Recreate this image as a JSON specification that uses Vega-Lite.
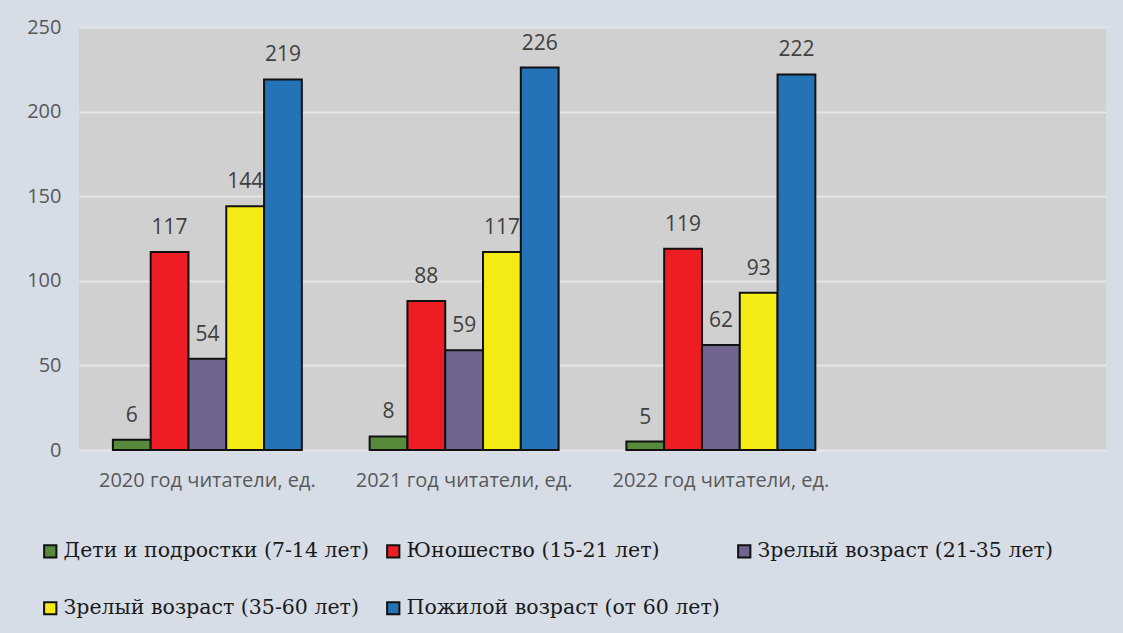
{
  "$schema": "https://vega.github.io/schema/vega-lite/v6.json",
  "autosize": {"type": "none"},
  "width": 1027,
  "height": 423,
  "padding": {"left": 79, "top": 27, "right": 17, "bottom": 183},
  "background": "#d6dde7",
  "config": {
    "view": {"fill": "#d0d0d0", "stroke": null},
    "axis": {"labelFont": "Open Sans", "labelColor": "#595959", "labelFontSize": 20, "domain": false, "ticks": false},
    "legend": {"labelFont": "DejaVu Serif"}
  },
  "data": {
    "values": [
      {"year": "2020 год читатели, ед.", "group": "Дети и подростки (7-14 лет)", "value": 6},
      {"year": "2020 год читатели, ед.", "group": "Юношество (15-21 лет)", "value": 117},
      {"year": "2020 год читатели, ед.", "group": "Зрелый возраст (21-35 лет)", "value": 54},
      {"year": "2020 год читатели, ед.", "group": "Зрелый возраст (35-60 лет)", "value": 144},
      {"year": "2020 год читатели, ед.", "group": "Пожилой возраст (от 60 лет)", "value": 219},
      {"year": "2021 год читатели, ед.", "group": "Дети и подростки (7-14 лет)", "value": 8},
      {"year": "2021 год читатели, ед.", "group": "Юношество (15-21 лет)", "value": 88},
      {"year": "2021 год читатели, ед.", "group": "Зрелый возраст (21-35 лет)", "value": 59},
      {"year": "2021 год читатели, ед.", "group": "Зрелый возраст (35-60 лет)", "value": 117},
      {"year": "2021 год читатели, ед.", "group": "Пожилой возраст (от 60 лет)", "value": 226},
      {"year": "2022 год читатели, ед.", "group": "Дети и подростки (7-14 лет)", "value": 5},
      {"year": "2022 год читатели, ед.", "group": "Юношество (15-21 лет)", "value": 119},
      {"year": "2022 год читатели, ед.", "group": "Зрелый возраст (21-35 лет)", "value": 62},
      {"year": "2022 год читатели, ед.", "group": "Зрелый возраст (35-60 лет)", "value": 93},
      {"year": "2022 год читатели, ед.", "group": "Пожилой возраст (от 60 лет)", "value": 222}
    ]
  },
  "encoding": {
    "x": {
      "field": "year", "type": "nominal", "title": null,
      "scale": {"domain": ["2020 год читатели, ед.", "2021 год читатели, ед.", "2022 год читатели, ед.", " "], "paddingInner": 0.264, "paddingOuter": 0.132},
      "axis": {"labelAngle": 0, "labelPadding": 20, "labelLimit": 0}
    },
    "xOffset": {
      "field": "group", "type": "nominal",
      "scale": {"domain": ["Дети и подростки (7-14 лет)", "Юношество (15-21 лет)", "Зрелый возраст (21-35 лет)", "Зрелый возраст (35-60 лет)", "Пожилой возраст (от 60 лет)"], "paddingInner": 0, "paddingOuter": 0}
    },
    "y": {
      "field": "value", "type": "quantitative", "title": null,
      "scale": {"domain": [0, 250], "nice": false},
      "axis": {"values": [0, 50, 100, 150, 200, 250], "gridColor": "#e6e6e6", "gridWidth": 2, "labelPadding": 18}
    }
  },
  "layer": [
    {
      "mark": {"type": "bar", "stroke": "#111111", "strokeWidth": 2},
      "encoding": {
        "color": {
          "field": "group", "type": "nominal",
          "scale": {
            "domain": ["Дети и подростки (7-14 лет)", "Юношество (15-21 лет)", "Зрелый возраст (21-35 лет)", "Зрелый возраст (35-60 лет)", "Пожилой возраст (от 60 лет)"],
            "range": ["#578a3b", "#ee1d24", "#716590", "#f4ea14", "#2473b7"]
          },
          "legend": {
            "title": null,
            "orient": "none",
            "legendX": -39,
            "legendY": 514,
            "direction": "horizontal",
            "columns": 3,
            "gridAlign": "each",
            "symbolType": "square",
            "symbolSize": 150,
            "symbolStrokeColor": "#111111",
            "symbolStrokeWidth": 2,
            "symbolOpacity": 1,
            "labelFont": "DejaVu Serif",
            "labelFontSize": 20.5,
            "labelColor": "#1a1a1a",
            "labelOffset": 3,
            "labelLimit": 0,
            "columnPadding": 14,
            "rowPadding": 36
          }
        }
      }
    },
    {
      "mark": {"type": "text", "baseline": "middle", "dy": -24, "font": "Open Sans", "fontSize": 21, "color": "#404040"},
      "encoding": {"text": {"field": "value", "type": "quantitative"}}
    }
  ]
}
